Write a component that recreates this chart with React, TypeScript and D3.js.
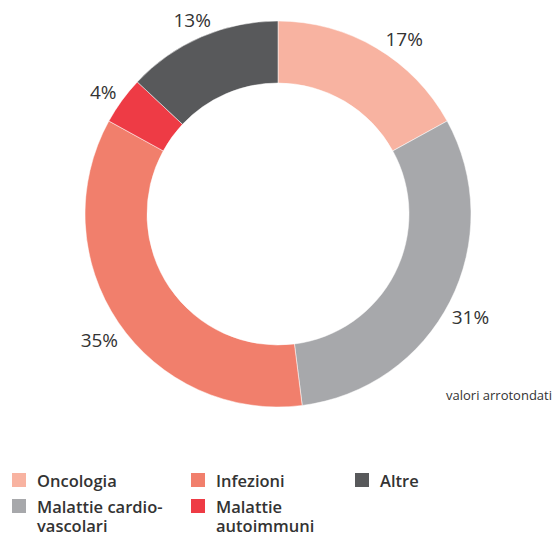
import React from "react";
import * as d3 from "d3";

const categories = ["Oncologia", "Malattie cardio-vascolari", "Infezioni", "Malattie autoimmuni", "Altre"];
const values = [17, 31, 35, 4, 13];
const colors = ["#f8b3a1", "#a7a8ab", "#f17f6c", "#ee3b45", "#58595b"];
const legendLines = [["Oncologia"], ["Malattie cardio-", "vascolari"], ["Infezioni"], ["Malattie", "autoimmuni"], ["Altre"]];
const note = "valori arrotondati";

const W = 553, H = 536;
const cx = 278, cy = 214, R = 193, r = 131;
const font = "'Open Sans', sans-serif";

export default function App() {
  const pie = d3.pie<number>().sort(null).value((d) => d);
  const arcs = pie(values);
  const arc = d3.arc<d3.PieArcDatum<number>>().innerRadius(r).outerRadius(R);
  const labelR = 216;
  const legendPos = [
    { col: 0, row: 0 }, { col: 0, row: 1 }, { col: 1, row: 0 }, { col: 1, row: 1 }, { col: 2, row: 0 },
  ];
  const colX = [12, 191, 355];
  const rowY = [473, 499];
  return (
    <svg width={W} height={H} style={{ position: "absolute", left: 0, top: 0 }}>
      <rect width={W} height={H} fill="#fff" />
      <g transform={`translate(${cx},${cy})`}>
        {arcs.map((a, i) => (
          <path key={i} d={arc(a) || ""} fill={colors[i]} stroke="#fff" strokeWidth={0.5} />
        ))}
        {arcs.map((a, i) => {
          const m = (a.startAngle + a.endAngle) / 2 + (i === 0 ? 0.09 : 0);
          const x = Math.sin(m) * labelR;
          const y = -Math.cos(m) * labelR + (i === 0 ? 1 : 5);
          return (
            <text key={i} x={x} y={y} dy="0.35em" textAnchor="middle" fontFamily={font} fontSize={19} fill="#333">
              {values[i]}%
            </text>
          );
        })}
      </g>
      <text x={W - 1} y={400} textAnchor="end" fontFamily={font} fontSize={13} fill="#333">{note}</text>
      {categories.map((c, i) => {
        const p = legendPos[i];
        const x = colX[p.col];
        const y = rowY[p.row];
        return (
          <g key={c}>
            <rect x={x} y={y} width={14} height={14} fill={colors[i]} />
            <text x={x + 25} y={y + 14} fontFamily={font} fontSize={16.5} fontWeight={600} fill="#333">
              {legendLines[i].map((ln, k) => (
                <tspan key={k} x={x + 25} dy={k === 0 ? 0 : 19}>{ln}</tspan>
              ))}
            </text>
          </g>
        );
      })}
    </svg>
  );
}
